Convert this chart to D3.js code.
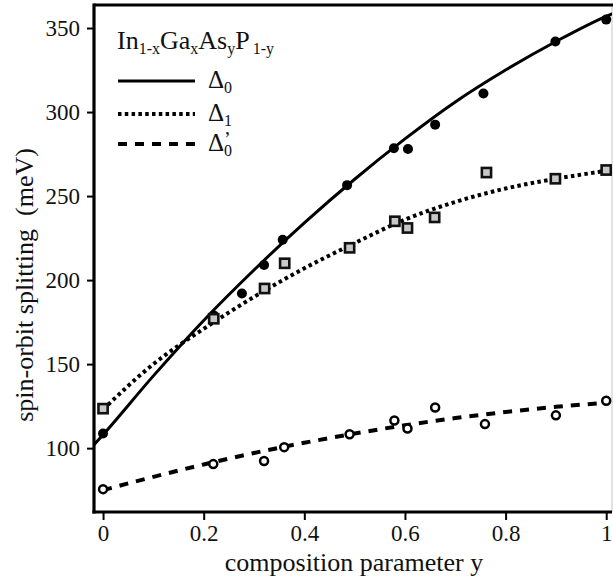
<!DOCTYPE html>
<html><head><meta charset="utf-8">
<script src="https://cdn.jsdelivr.net/npm/d3@7"></script>
<style>body{margin:0;background:#fff}svg{display:block}</style>
</head><body>
<script>
// ---- data ----
const xTicks = [0, 0.2, 0.4, 0.6, 0.8, 1];
const yTicks = [100, 150, 200, 250, 300, 350];
const xTickLabels = ["0", "0.2", "0.4", "0.6", "0.8", "1"];

// measured points
const d0X  = [0, 0.22, 0.276, 0.32, 0.357, 0.485, 0.578, 0.606, 0.66, 0.756, 0.899, 1.0];
const d0Y  = [108.7, 179, 192, 209, 224, 256.5, 278.5, 278, 292.5, 311, 342, 355];
const d1X  = [0, 0.22, 0.321, 0.361, 0.49, 0.58, 0.605, 0.659, 0.762, 0.899, 1.0];
const d1Y  = [123.5, 177, 195, 210, 219.2, 235, 231, 237.3, 264, 260.3, 265.5];
const d0pX = [0, 0.219, 0.32, 0.36, 0.49, 0.579, 0.605, 0.66, 0.759, 0.90, 1.0];
const d0pY = [75.6, 90.5, 92.4, 100.6, 108.3, 116.5, 111.7, 124.2, 114.3, 119.5, 128.2];

// fitted curves
const fitX   = [0, 0.1, 0.2, 0.3, 0.4, 0.5, 0.6, 0.7, 0.8, 0.9, 1.0];
const fitD0X = [-0.018, 0, 0.1, 0.2, 0.3, 0.4, 0.5, 0.6, 0.7, 0.8, 0.9, 1.0, 1.012];
const fitD0  = [102, 108, 143, 176, 206, 234, 260, 284, 306, 325, 342, 357, 358.5];
const fitD1  = [123, 150, 171, 190, 207, 222, 236, 246.5, 254.5, 260.3, 265];
const fitD0p = [75, 82.9, 90.3, 97.1, 103.2, 108.7, 113.6, 117.9, 121.5, 124.6, 127];

const FONT = "'Liberation Serif', 'DejaVu Serif', serif";
const W = 613, H = 580;
const svg = d3.select("body").append("svg").attr("width", W).attr("height", H)
  .style("font-family", FONT);

const x = d3.scaleLinear().domain([-0.018, 1.0115]).range([94, 612]);
const y = d3.scaleLinear().domain([62, 363.7]).range([512, 5]);

svg.append("clipPath").attr("id", "clip").append("rect")
  .attr("x", 94).attr("y", 5).attr("width", 518).attr("height", 507);

// right frame edge (cut)
svg.append("line").attr("x1", 612).attr("x2", 612).attr("y1", 5).attr("y2", 512)
  .attr("stroke", "#cfcfcf").attr("stroke-width", 1.2);
// top frame
svg.append("line").attr("x1", 94).attr("x2", 613).attr("y1", 5).attr("y2", 5)
  .attr("stroke", "#000").attr("stroke-width", 3.2);

// axes
const ax = svg.append("g").attr("transform", "translate(0,512)")
  .call(d3.axisBottom(x).tickValues(xTicks).tickFormat((d, i) => xTickLabels[i]).tickSize(8).tickSizeOuter(0).tickPadding(5));
const ay = svg.append("g").attr("transform", "translate(94,0)")
  .call(d3.axisLeft(y).tickValues(yTicks).tickSize(7).tickSizeOuter(0).tickPadding(7));
[ax, ay].forEach(g => {
  g.attr("font-family", null).attr("font-size", null);
  g.select(".domain").attr("stroke", "#000").attr("stroke-width", 3.2);
  g.selectAll(".tick line").attr("stroke", "#000").attr("stroke-width", 2);
  g.selectAll(".tick text").style("font-family", FONT).style("font-size", "23px").attr("fill", "#111");
});
ay.select(".domain").attr("d", "M0,3.5V513.5");
ax.select(".domain").attr("d", "M92.5,0H612");

// axis titles
svg.append("text").attr("x", 354).attr("y", 571).attr("text-anchor", "middle")
  .style("font-family", FONT).style("font-size", "26px").attr("fill", "#111").text("composition parameter y");
svg.append("text").attr("transform", "translate(33,285) rotate(-90)").attr("text-anchor", "middle")
  .style("font-family", FONT).style("font-size", "26px").attr("fill", "#111")
  .style("white-space", "pre").text("spin-orbit splitting  (meV)");

// curves
const plot = svg.append("g").attr("clip-path", "url(#clip)");
const line = d3.line().curve(d3.curveMonotoneX);
plot.append("path").attr("d", line(fitD0X.map((u, i) => [x(u), y(fitD0[i])])))
  .attr("fill", "none").attr("stroke", "#000").attr("stroke-width", 3);
plot.append("path").attr("d", line(fitX.map((u, i) => [x(u), y(fitD1[i])])))
  .attr("fill", "none").attr("stroke", "#000").attr("stroke-width", 4).attr("stroke-dasharray", "3.5,3.3");
plot.append("path").attr("d", line(fitX.map((u, i) => [x(u), y(fitD0p[i])])))
  .attr("fill", "none").attr("stroke", "#000").attr("stroke-width", 4).attr("stroke-dasharray", "9,8");

// markers
plot.selectAll(".d0").data(d0X).enter().append("circle")
  .attr("cx", d => x(d)).attr("cy", (d, i) => y(d0Y[i])).attr("r", 5).attr("fill", "#000");
plot.selectAll(".d1").data(d1X).enter().append("rect")
  .attr("x", d => x(d) - 4.6).attr("y", (d, i) => y(d1Y[i]) - 4.6).attr("width", 9.2).attr("height", 9.2)
  .attr("fill", "#c8c8c8").attr("stroke", "#111").attr("stroke-width", 2.6);
plot.selectAll(".d0p").data(d0pX).enter().append("circle")
  .attr("cx", d => x(d)).attr("cy", (d, i) => y(d0pY[i])).attr("r", 4)
  .attr("fill", "#fff").attr("stroke", "#000").attr("stroke-width", 2.5);

// legend
const lg = svg.append("g");
const title = lg.append("text").attr("x", 117).attr("y", 49)
  .style("font-family", FONT).style("font-size", "26px").attr("fill", "#111");
const parts = [["In", 0], ["1-x", 1], ["Ga", 0], ["x", 1], ["As", 0], ["y", 1], ["P", 0], ["1-y", 1]];
parts.forEach((p, i) => {
  const t = title.append("tspan").text(p[0]);
  if (p[1]) t.style("font-size", "16px").attr("dy", 5).attr("dx", p[0] === "1-y" ? 3 : 0);
  else if (i > 0) t.attr("dy", -5);
});
const legItems = [
  {label: "0", sup: false, w: 3, dash: null, yy: 81},
  {label: "1", sup: false, w: 4, dash: "3.5,3.3", yy: 114},
  {label: "0", sup: true, w: 4, dash: "9,8", yy: 144}
];
legItems.forEach(it => {
  const l = lg.append("line").attr("x1", 118).attr("x2", 195).attr("y1", it.yy).attr("y2", it.yy)
    .attr("stroke", "#000").attr("stroke-width", it.w);
  if (it.dash) l.attr("stroke-dasharray", it.dash);
  const t = lg.append("text").attr("x", 208).attr("y", it.yy + 7)
    .style("font-family", FONT).style("font-size", "25px").attr("fill", "#111");
  t.append("tspan").text("\u0394");
  t.append("tspan").text(it.label).style("font-size", "16px").attr("dy", 5);
  if (it.sup) t.append("tspan").text("\u2019").style("font-size", "20px").attr("dx", -8).attr("dy", -10);
});
</script>
</body></html>
